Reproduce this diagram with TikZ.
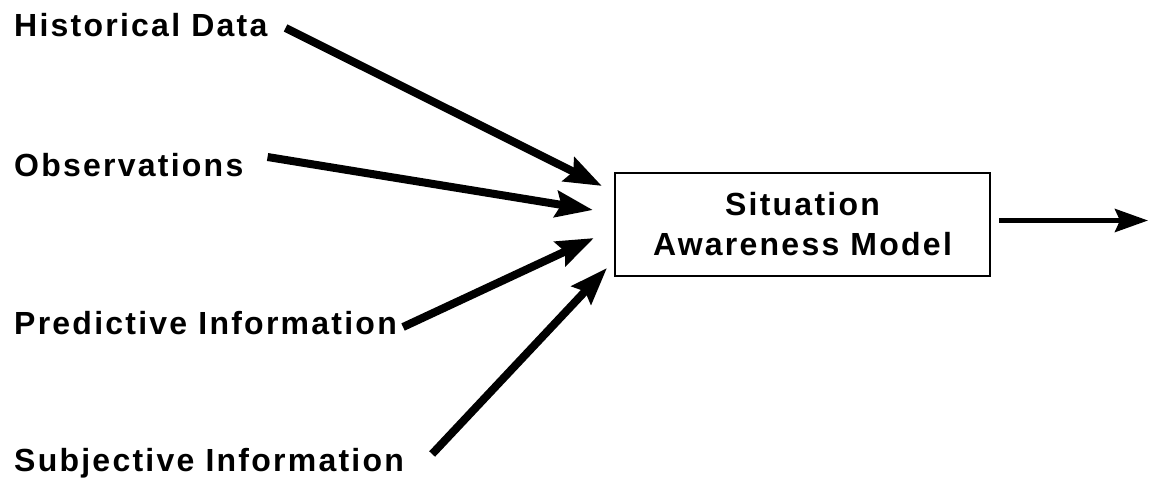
\documentclass[tikz,border=0pt]{standalone}
\usepackage{fontspec}
\setmainfont[LetterSpace=7]{Liberation Sans}
\usetikzlibrary{arrows.meta}
\tikzset{
  lbl/.style={font=\fontsize{32}{38}\selectfont\bfseries, inner sep=0pt, anchor=west},
  modelbox/.style={draw, line width=2.2pt, minimum width=375pt, minimum height=103pt,
    align=center, inner sep=0pt, font=\fontsize{32}{40}\selectfont\bfseries},
  inarrow/.style={line width=8pt, -{Stealth[length=37pt,width=26pt,inset=5pt]}},
  outarrow/.style={line width=5pt, -{Stealth[length=33pt,width=23pt,inset=5pt]}}
}
\begin{document}
\begin{tikzpicture}[x=1pt,y=-1pt]
  \useasboundingbox (0,0) rectangle (1150,485);

  % input labels
  \node[lbl] (hist) at (14,25)  {Historical Data};
  \node[lbl] (obs)  at (14,165) {Observations};
  \node[lbl] (pred) at (14,323) {Predictive Information};
  \node[lbl] (subj) at (14,463) {Subjective Information};

  % model box
  \node[modelbox] (sam) at (802.5,224.5) {Situation\\Awareness Model};

  % arrow tips near the box
  \coordinate (t1) at (602,186);
  \coordinate (t2) at (593,210);
  \coordinate (t3) at (594,238);
  \coordinate (t4) at (607,268);
  \coordinate (out) at (1148,220.5);

  \draw[inarrow] ([shift={(18,3)}]hist.east) -- (t1);
  \draw[inarrow] ([shift={(24,-8)}]obs.east) -- (t2);
  \draw[inarrow] ([shift={(6,4)}]pred.east) -- (t3);
  \draw[inarrow] ([shift={(28,-9)}]subj.east) -- (t4);
  \draw[outarrow] ([shift={(8,-4)}]sam.east) -- (out);
\end{tikzpicture}
\end{document}
